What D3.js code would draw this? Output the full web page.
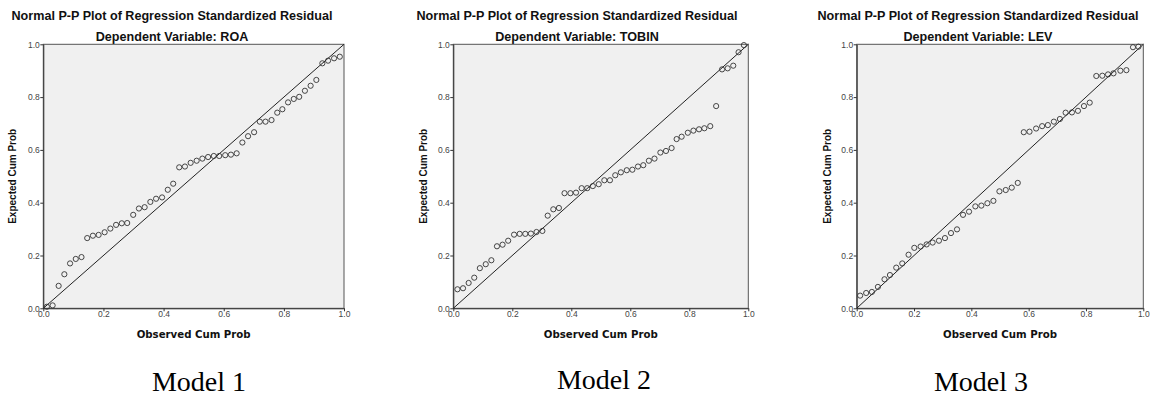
<!DOCTYPE html>
<html>
<head>
<meta charset="utf-8">
<script src="https://cdn.jsdelivr.net/npm/d3@7"></script>
<style>
  body { margin: 0; background: #fff; }
  svg { display: block; }
</style>
</head>
<body>
<div id="chart"></div>
<script>
// observed / expected cumulative probabilities
var obsROA = [.012,.031,.051,.07,.089,.108,.127,.146,.165,.184,.204,.223,.242,.261,.279,.299,.318,.337,.356,.375,
  .395,.414,.432,.452,.471,.49,.51,.529,.548,.567,.585,.605,.624,.643,.662,.681,.701,.72,.739,.759,
  .778,.795,.814,.833,.851,.87,.889,.908,.928,.947,.967,.986];
var expROA = [.006,.011,.085,.129,.170,.187,.194,.266,.275,.278,.288,.302,.316,.322,.323,.354,.378,.383,.403,.415,
  .420,.449,.472,.534,.537,.551,.559,.567,.573,.577,.577,.58,.582,.587,.628,.652,.667,.707,.707,.713,
  .741,.754,.78,.793,.801,.824,.843,.865,.928,.938,.947,.953];

var obsTOBIN = [.014,.033,.052,.071,.09,.11,.129,.148,.167,.186,.206,.225,.244,.263,.282,.302,.32,.339,.358,.377,
  .397,.416,.435,.454,.473,.493,.512,.531,.549,.568,.588,.607,.626,.644,.663,.682,.702,.721,.74,.757,
  .774,.795,.814,.833,.851,.871,.891,.911,.93,.949,.967,.985];
var expTOBIN = [.072,.076,.096,.116,.152,.167,.182,.235,.241,.256,.279,.282,.282,.283,.289,.293,.351,.375,.38,.436,
  .436,.438,.455,.455,.463,.47,.485,.485,.504,.515,.523,.525,.537,.542,.559,.567,.59,.596,.607,.641,
  .65,.665,.673,.678,.682,.69,.766,.905,.909,.919,.97,.997];

var obsLEV = [.012,.033,.053,.074,.097,.116,.138,.159,.181,.201,.223,.244,.265,.287,.308,.329,.35,.371,.392,.414,
  .435,.456,.477,.498,.52,.541,.562,.583,.603,.626,.647,.667,.688,.709,.729,.751,.772,.793,.813,.836,
  .857,.877,.896,.92,.941,.964,.983];
var expLEV = [.048,.058,.062,.081,.11,.126,.154,.17,.203,.229,.234,.242,.249,.256,.266,.285,.299,.354,.366,.386,
  .389,.398,.407,.443,.448,.457,.475,.667,.669,.681,.69,.694,.707,.717,.741,.742,.748,.766,.779,.88,
  .881,.886,.89,.9,.902,.989,.991];

var depVars = ["ROA", "TOBIN", "LEV"];
var modelLabels = ["Model 1", "Model 2", "Model 3"];
var tickValues = [0, 0.2, 0.4, 0.6, 0.8, 1.0];

var W = 1156, H = 399;
var plotTop = 44.3, plotBottom = 308.3;

// layout of each panel (pixel positions only)
var panels = [
  {x0: 43.3,  x1: 344,    tc: 172, yl: 12,  mc: 199, obs: obsROA,   exp: expROA},
  {x0: 453.3, x1: 748.3,  tc: 577, yl: 423, mc: 604, obs: obsTOBIN, exp: expTOBIN},
  {x0: 856.7, x1: 1143.3, tc: 978, yl: 827, mc: 981, obs: obsLEV,   exp: expLEV}
];

var svg = d3.select("#chart").append("svg")
  .attr("width", W)
  .attr("height", H);

panels.forEach(function(p, i) {
  var x = d3.scaleLinear().domain([0, 1]).range([p.x0, p.x1]);
  var y = d3.scaleLinear().domain([0, 1]).range([plotBottom, plotTop]);
  var g = svg.append("g");

  // titles
  g.append("text")
    .attr("x", p.tc).attr("y", 19.5)
    .attr("text-anchor", "middle")
    .style("font-family", "Arial, 'Liberation Sans', sans-serif")
    .style("font-weight", "bold")
    .style("font-size", "12.6px")
    .style("fill", "#111")
    .text("Normal P-P Plot of Regression Standardized Residual");
  g.append("text")
    .attr("x", p.tc).attr("y", 40.5)
    .attr("text-anchor", "middle")
    .style("font-family", "Arial, 'Liberation Sans', sans-serif")
    .style("font-weight", "bold")
    .style("font-size", "12.6px")
    .style("fill", "#111")
    .text("Dependent Variable: " + depVars[i]);

  // plot area
  g.append("rect")
    .attr("x", x(0)).attr("y", y(1))
    .attr("width", x(1) - x(0)).attr("height", y(0) - y(1))
    .style("fill", "#f0f0f0")
    .style("stroke", "#555")
    .style("stroke-width", 1);

  // axes
  var xAxis = g.append("g")
    .attr("transform", "translate(0," + plotBottom + ")")
    .call(d3.axisBottom(x).tickValues(tickValues).tickFormat(d3.format(".1f")).tickSize(3).tickSizeOuter(0));
  var yAxis = g.append("g")
    .attr("transform", "translate(" + p.x0 + ",0)")
    .call(d3.axisLeft(y).tickValues(tickValues).tickFormat(d3.format(".1f")).tickSize(3).tickSizeOuter(0));
  [xAxis, yAxis].forEach(function(a) {
    a.select(".domain").style("stroke", "#333");
    a.selectAll(".tick line").style("stroke", "#333");
    a.selectAll(".tick text")
      .style("font-family", "Arial, 'Liberation Sans', sans-serif")
      .style("font-size", "8.5px")
      .style("fill", "#444");
  });
  xAxis.selectAll(".tick text").attr("dy", "0.6em").attr("y", 4);
  yAxis.selectAll(".tick text").attr("x", -3.5);

  // axis titles
  g.append("text")
    .attr("x", (p.x0 + p.x1) / 2).attr("y", 337.5)
    .attr("text-anchor", "middle")
    .style("font-family", "Verdana, 'DejaVu Sans', sans-serif")
    .style("font-weight", "bold")
    .style("font-size", "10.2px")
    .style("fill", "#111")
    .text("Observed Cum Prob");
  g.append("text")
    .attr("transform", "translate(" + (p.yl + 3.5) + "," + ((plotTop + plotBottom) / 2) + ") rotate(-90)")
    .attr("text-anchor", "middle")
    .style("font-family", "Arial, 'Liberation Sans', sans-serif")
    .style("font-weight", "bold")
    .style("font-size", "10px")
    .style("fill", "#111")
    .text("Expected Cum Prob");

  // reference diagonal
  g.append("line")
    .attr("x1", x(0)).attr("y1", y(0))
    .attr("x2", x(1)).attr("y2", y(1))
    .style("stroke", "#222")
    .style("stroke-width", 1);

  // points
  g.append("g")
    .selectAll("circle")
    .data(p.obs)
    .enter()
    .append("circle")
      .attr("cx", function(d) { return x(d); })
      .attr("cy", function(d, j) { return y(p.exp[j]); })
      .attr("r", 2.6)
      .style("fill", "none")
      .style("stroke", "#333")
      .style("stroke-width", 0.9);

  // model caption
  svg.append("text")
    .attr("x", p.mc).attr("y", 391 - (i == 1 ? 2 : 0))
    .attr("text-anchor", "middle")
    .style("font-family", "'Liberation Serif', 'Times New Roman', serif")
    .style("font-size", "28px")
    .style("fill", "#000")
    .text(modelLabels[i]);
});
</script>
</body>
</html>
